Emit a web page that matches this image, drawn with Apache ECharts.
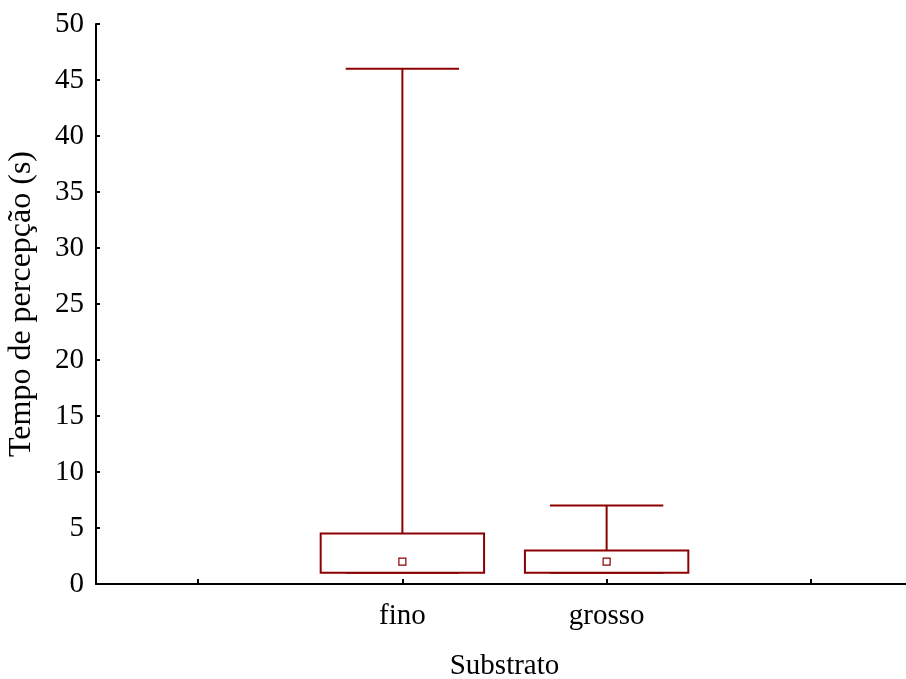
<!DOCTYPE html>
<html>
<head>
<meta charset="utf-8">
<script src="https://cdn.jsdelivr.net/npm/echarts@6/dist/echarts.min.js"></script>
<style>
html,body{margin:0;padding:0;background:#fff;}
#chart{width:906px;height:679px;}
</style>
</head>
<body>
<div id="chart"></div>
<script>
const categories = ['', 'fino', 'grosso', ''];
const groupIndex = [1, 2];
const mins = [1, 1];
const q1s = [1, 1];
const medians = [2, 2];
const q3s = [4.5, 3];
const maxs = [46, 7];
const yTicks = [0, 5, 10, 15, 20, 25, 30, 35, 40, 45, 50];

const COLOR = '#8b0000';
const FONT = 'Liberation Serif';

const boxData = groupIndex.map((c, i) => [c, mins[i], q1s[i], medians[i], q3s[i], maxs[i]]);

function renderItem(params, api) {
  const x = api.value(0);
  const pMin = api.coord([x, api.value(1)]);
  const pQ1 = api.coord([x, api.value(2)]);
  const pMed = api.coord([x, api.value(3)]);
  const pQ3 = api.coord([x, api.value(4)]);
  const pMax = api.coord([x, api.value(5)]);
  const band = api.size([1, 0])[0];
  const boxW = band * 0.8;
  const capW = band * 0.555;
  const cx = pQ1[0];
  const st = { stroke: COLOR, lineWidth: 2, fill: null };
  return {
    type: 'group',
    children: [
      { type: 'line', shape: { x1: cx, y1: pQ3[1], x2: cx, y2: pMax[1] }, style: st },
      { type: 'line', shape: { x1: cx - capW / 2, y1: pMax[1], x2: cx + capW / 2, y2: pMax[1] }, style: st },
      { type: 'line', shape: { x1: cx, y1: pQ1[1], x2: cx, y2: pMin[1] }, style: st },
      { type: 'line', shape: { x1: cx - capW / 2, y1: pMin[1], x2: cx + capW / 2, y2: pMin[1] }, style: st },
      { type: 'rect', shape: { x: cx - boxW / 2, y: pQ3[1], width: boxW, height: pQ1[1] - pQ3[1] }, style: { stroke: COLOR, lineWidth: 2, fill: '#fff' } },
      { type: 'rect', shape: { x: pMed[0] - 3.5, y: pMed[1] - 3.5, width: 7, height: 7 }, style: { stroke: COLOR, lineWidth: 1.2, fill: '#fff' } }
    ]
  };
}

const chart = echarts.init(document.getElementById('chart'), null, { renderer: 'canvas' });
chart.setOption({
  backgroundColor: '#fff',
  animation: false,
  grid: { left: 96, top: 24, bottom: 95, right: -7, containLabel: false, outerBoundsMode: 'none' },
  xAxis: {
    type: 'category',
    data: categories,
    name: 'Substrato',
    nameLocation: 'middle',
    nameGap: 68,
    nameTextStyle: { fontFamily: FONT, fontSize: 29, color: '#000' },
    axisLine: { lineStyle: { color: '#000', width: 2 } },
    axisTick: { show: true, inside: true, length: 5, alignWithLabel: true, interval: 0, lineStyle: { color: '#000', width: 2 } },
    axisLabel: { interval: 0, margin: 18, fontFamily: FONT, fontSize: 29, color: '#000' },
    splitLine: { show: false }
  },
  yAxis: {
    type: 'value',
    min: yTicks[0],
    max: yTicks[yTicks.length - 1],
    interval: 5,
    name: 'Tempo de percepção (s)',
    nameLocation: 'middle',
    nameGap: 58,
    nameTextStyle: { fontFamily: FONT, fontSize: 32, color: '#000' },
    axisLine: { show: true, lineStyle: { color: '#000', width: 2 } },
    axisTick: { show: true, inside: true, length: 4, lineStyle: { color: '#000', width: 2 } },
    axisLabel: { margin: 12, fontFamily: FONT, fontSize: 29, color: '#000' },
    splitLine: { show: false }
  },
  series: [{
    type: 'custom',
    renderItem: renderItem,
    encode: { x: 0, y: [1, 2, 3, 4, 5] },
    data: boxData,
    clip: false
  }]
});
</script>
</body>
</html>
